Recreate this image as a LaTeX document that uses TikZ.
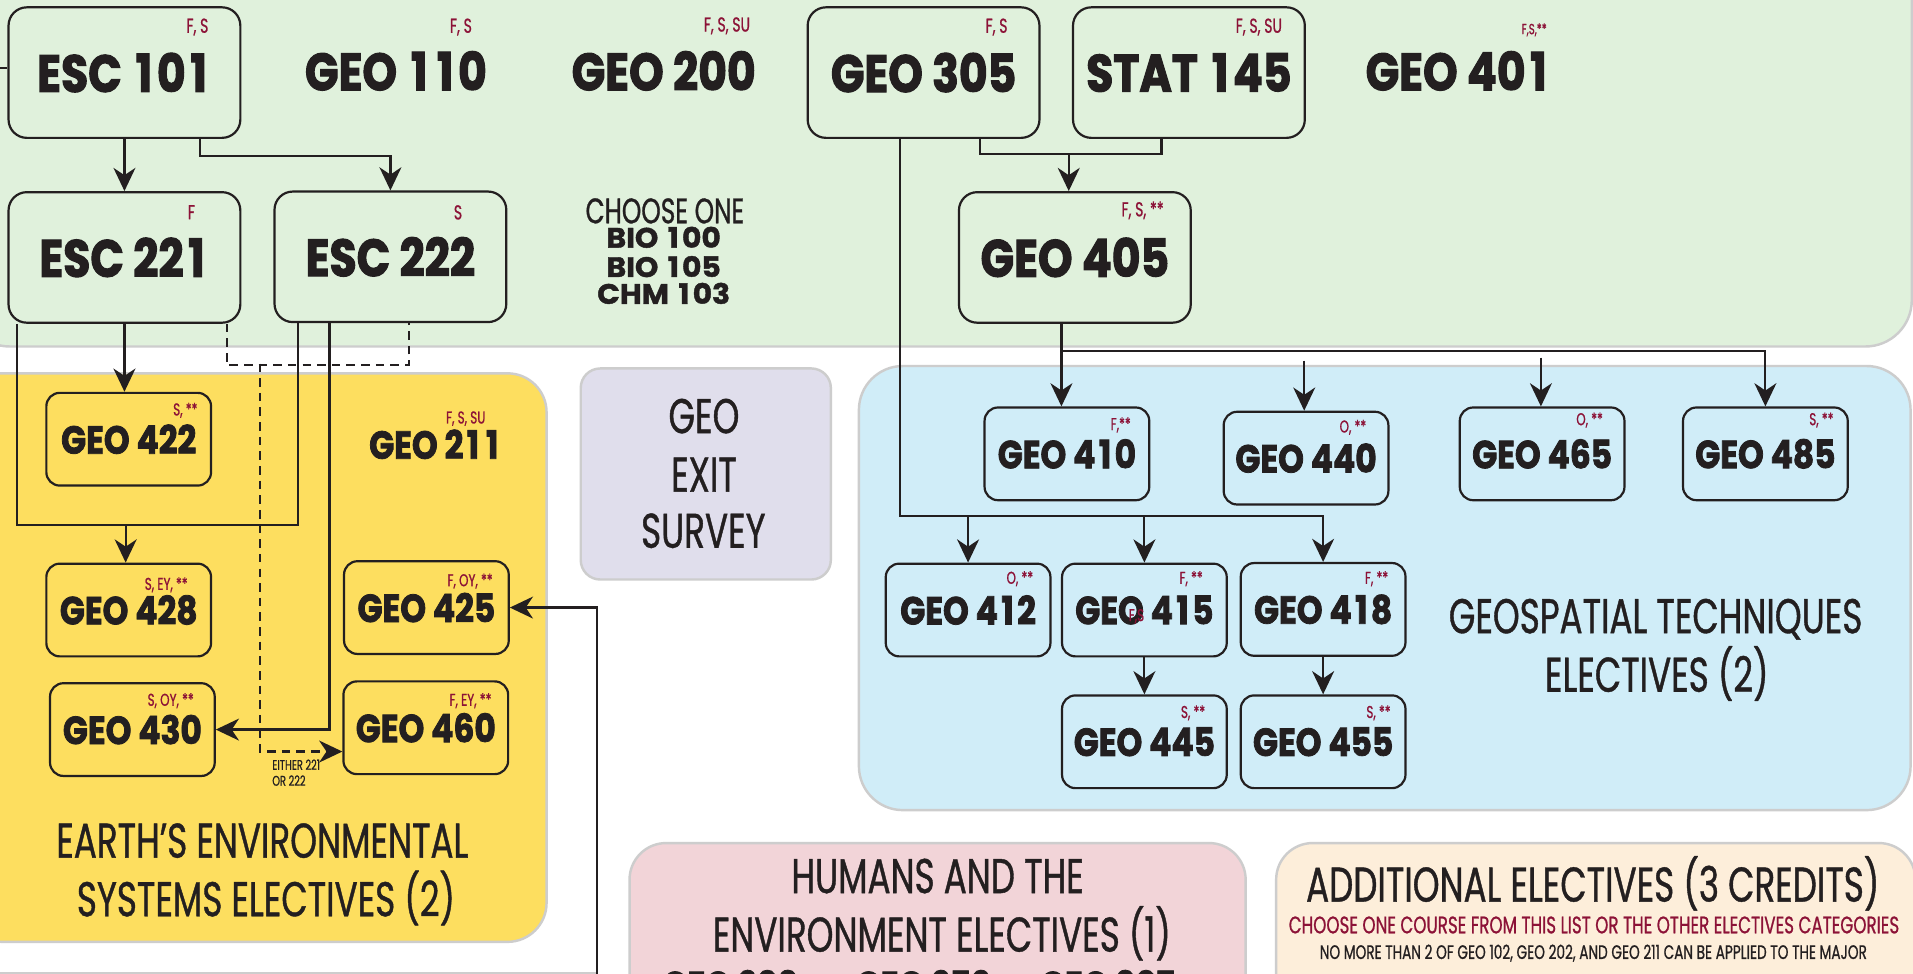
\documentclass[tikz,border=0pt]{standalone}
\usepackage{fontspec}
\usetikzlibrary{arrows.meta,calc}
\newfontfamily\heavyfam[FakeStretch=0.84, FakeBold=2]{Poppins}
\newfontfamily\widefam[FakeStretch=1.06, FakeBold=1.5]{Poppins}
\newfontfamily\lightfam[FakeStretch=0.70, FakeBold=0.8]{Poppins}
\newcommand\HF[1]{\heavyfam\bfseries\fontsize{#1}{#1}\selectfont}
\newcommand\WF[1]{\widefam\bfseries\fontsize{#1}{#1}\selectfont}
\newcommand\LF[1]{\lightfam\fontsize{#1}{#1}\selectfont}
\newlength\digw
\newcommand\one{\settowidth{\digw}{0}\makebox[0.9\digw]{1}}
\definecolor{ink}{RGB}{35,31,32}
\definecolor{ann}{RGB}{140,18,55}
\definecolor{greenbg}{RGB}{224,241,220}
\definecolor{yellowbg}{RGB}{253,222,95}
\definecolor{lavbg}{RGB}{224,222,236}
\definecolor{bluebg}{RGB}{208,237,248}
\definecolor{pinkbg}{RGB}{242,212,216}
\definecolor{peachbg}{RGB}{253,238,218}
\definecolor{rim}{RGB}{205,205,205}
\tikzset{
  region/.style={draw=rim, line width=2pt, rounded corners=#1},
  bigbox/.style={draw=ink, line width=1.8pt, rounded corners=15pt, minimum width=190pt, minimum height=107pt, inner sep=0pt, font=\HF{43}},
  smallbox/.style={draw=ink, line width=1.8pt, rounded corners=11pt, minimum width=135pt, minimum height=76pt, inner sep=0pt, font=\HF{32}},
  bigtxt/.style={anchor=base, inner sep=0pt, font=\HF{43}},
  medtxt/.style={anchor=base, inner sep=0pt, font=\HF{32}},
  listtxt/.style={anchor=base, inner sep=0pt, font=\WF{23}},
  bigann/.style={anchor=north east, inner sep=0pt, text=ann, font=\LF{16.5}},
  smallann/.style={anchor=north east, inner sep=0pt, text=ann, font=\LF{14}},
  title/.style={anchor=base, inner sep=0pt, font=\LF{40}},
  conn/.style={draw=ink, line width=1.8pt},
  arr/.style={conn, -{Stealth[length=19pt,width=18pt,inset=6pt]}},
  dconn/.style={conn, dash pattern=on 7pt off 5pt},
  darr/.style={dconn, -{Stealth[length=19pt,width=18pt,inset=6pt]}},
}
\begin{document}
\begin{tikzpicture}[x=1pt,y=-1pt,text=ink]
\useasboundingbox (0,0) rectangle (1568,798);
\fill[white] (0,0) rectangle (1568,798);
% regions
\path[region=38pt, fill=greenbg] (-30,-40) rectangle (1567,284);
\path[region=32pt, fill=yellowbg] (-30,306) rectangle (448,772);
\path[region=16pt, fill=lavbg] (476,302) rectangle (681,475);
\path[region=36pt, fill=bluebg] (704,300) rectangle (1566,664);
\path[region=30pt, fill=pinkbg] (516,691) rectangle (1021,860);
\path[region=30pt, fill=peachbg] (1046,691) rectangle (1570,860);
\draw[rim, line width=2pt] (-5,797.5) -- (489,797.5);

% top row
\node[bigbox] (esc101) at (102,59.5) {ESC \one0\one};
\node[bigann] (a101) at (171,15) {F, S};
\node[bigtxt] (geo110) at (324.5,74) {GEO \one\one0};
\node[bigann] (a110) at (387,15) {F, S};
\node[bigtxt] (geo200) at (544,74) {GEO 200};
\node[bigann] (a200) at (615,14) {F, S, SU};
\node[bigbox] (geo305) at (757,59.5) {GEO 305};
\node[bigann] (a305) at (826,15) {F, S};
\node[bigbox] (stat145) at (974.5,59.5) {STAT \one45};
\node[bigann] (a145) at (1051,15) {F, S, SU};
\node[bigtxt] (geo401) at (1195.5,74) {GEO 40\one};
\node[anchor=north east, inner sep=0pt, text=ann, font=\LF{12}] (a401) at (1268,19) {F,S,**};

% second row
\node[bigbox] (esc221) at (102,211) {ESC 22\one};
\node[bigann] (a221) at (160,168) {F};
\node[bigbox] (esc222) at (320,210.5) {ESC 222};
\node[bigann] (a222) at (379,168) {S};
\node[bigbox] (geo405) at (881,211) {GEO 405};
\node[bigann] (a405) at (954,165) {F, S, **};
\node[anchor=base, inner sep=0pt, font=\LF{29}] (choose) at (545,183) {CHOOSE ONE};
\node[listtxt] (bio100) at (544,203) {BIO \one00};
\node[listtxt] (bio105) at (544,227) {BIO \one05};
\node[listtxt] (chm103) at (544,249) {CHM \one03};

% yellow region
\node[smallbox] (geo422) at (105.5,360) {GEO 422};
\node[smallann] (a422) at (162,330) {S, **};
\node[medtxt] (geo211) at (357,376) {GEO 2\one\one};
\node[smallann] (a211) at (398,337) {F, S, SU};
\node[smallbox] (geo428) at (105.5,500) {GEO 428};
\node[smallann] (a428) at (154,473) {S, EY, **};
\node[smallbox] (geo425) at (349.5,498) {GEO 425};
\node[smallann] (a425) at (404,470) {F, OY, **};
\node[smallbox] (geo430) at (108.5,598) {GEO 430};
\node[smallann] (a430) at (159,568) {S, OY, **};
\node[smallbox] (geo460) at (349,596.5) {GEO 460};
\node[smallann] (a460) at (403,568) {F, EY, **};
\node[anchor=base west, inner sep=0pt, font=\LF{11.5}] (either1) at (223,631) {EITHER 221};
\node[anchor=base west, inner sep=0pt, font=\LF{11.5}] (either2) at (223,644) {OR 222};
\node[title] (t1a) at (215,703) {EARTH’S ENVIRONMENTAL};
\node[title] (t1b) at (218,751) {SYSTEMS ELECTIVES (2)};

% exit survey
\node[title] (x1) at (577,355) {GEO};
\node[title] (x2) at (577,403) {EXIT};
\node[title] (x3) at (576.5,449) {SURVEY};

% blue region
\node[smallbox] (geo410) at (874.5,372) {GEO 4\one0};
\node[smallann] (a410) at (927,342) {F,**};
\node[smallbox] (geo440) at (1070.5,375.5) {GEO 440};
\node[smallann] (a440) at (1120,344) {O, **};
\node[smallbox] (geo465) at (1264,372) {GEO 465};
\node[smallann] (a465) at (1314,338) {O, **};
\node[smallbox] (geo485) at (1447,372) {GEO 485};
\node[smallann] (a485) at (1503,338) {S, **};
\node[smallbox] (geo412) at (793.5,500) {GEO 4\one2};
\node[smallann] (a412) at (847,468) {O, **};
\node[smallbox] (geo415) at (938,500) {GEO 4\one5};
\node[smallann] (a415) at (986,468) {F, **};
\node[smallann] (a415b) at (938,499) {F,S};
\node[smallbox] (geo418) at (1084.5,499.5) {GEO 4\one8};
\node[smallann] (a418) at (1138,468) {F, **};
\node[smallbox] (geo445) at (938,608) {GEO 445};
\node[smallann] (a445) at (988,578) {S, **};
\node[smallbox] (geo455) at (1084.5,608) {GEO 455};
\node[smallann] (a455) at (1140,578) {S, **};
\node[title] (t2a) at (1357,519) {GEOSPATIAL TECHNIQUES};
\node[title] (t2b) at (1358,567) {ELECTIVES (2)};

% pink region
\node[title] (t3a) at (768.5,732) {HUMANS AND THE};
\node[title] (t3b) at (772,780) {ENVIRONMENT ELECTIVES (1)};
\node[medtxt] (geo203) at (598.5,819) {GEO 203};
\node[medtxt] (geo252) at (756.5,819) {GEO 252};
\node[medtxt] (geo307) at (907.5,819) {GEO 307};

% peach region
\node[title] (t4a) at (1305.5,739) {ADDITIONAL ELECTIVES (3 CREDITS)};
\node[anchor=base, inner sep=0pt, text=ann, font=\LF{19.6}] (t4b) at (1306.5,765) {CHOOSE ONE COURSE FROM THIS LIST OR THE OTHER ELECTIVES CATEGORIES};
\node[anchor=base, inner sep=0pt, font=\LF{16}] (t4c) at (1306,786) {NO MORE THAN 2 OF GEO 102, GEO 202, AND GEO 211 CAN BE APPLIED TO THE MAJOR};

% connectors
\coordinate (lft) at (-5,56);
\draw[conn] (lft) -- (esc101.west |- lft);
\draw[arr] (esc101.south) -- (esc221.north);
\draw[arr] ($(esc101.south)+(62,0)$) |- ($(esc222.north)+(0,-28)$) -- (esc222.north);
\coordinate (m405) at (876,126);
\draw[conn] ($(geo305.south)+(46,0)$) |- (m405) -| ($(stat145.south)+(-22.5,0)$);
\draw[arr] (m405) -- (m405 |- geo405.north);
% GEO 305 to 412/415/418
\coordinate (hrow) at (0,423);
\draw[arr] ($(geo305.south)+(-19,0)$) |- (geo418.north |- hrow) -- (geo418.north);
\draw[arr] (geo412.north |- hrow) -- (geo412.north);
\draw[arr] (geo415.north |- hrow) -- (geo415.north);
% GEO 405 to 410/440/465/485
\coordinate (b405) at ($(geo405.south)+(-11,0)$);
\coordinate (h2) at (0,288);
\draw[arr] (b405) -- (b405 |- geo410.north);
\draw[arr] (b405 |- h2) -| (geo485.north);
\draw[arr] ($(geo440.north)+(-1.5,-41)$) -- ($(geo440.north)+(-1.5,0)$);
\draw[arr] ($(geo465.north)+(-1,-40)$) -- ($(geo465.north)+(-1,0)$);
\draw[arr] (geo415.south) -- (geo445.north);
\draw[arr] (geo418.south) -- (geo455.north);
% ESC 221/222 to electives
\draw[arr] (esc221.south) -- (esc221.south |- geo422.north);
\coordinate (j428) at (103,430);
\draw[conn] ($(esc221.south)+(-88,0)$) |- (j428) -| ($(esc222.south)+(-76,0)$);
\draw[arr] (j428) -- (j428 |- geo428.north);
\draw[arr] ($(esc222.south)+(-50,0)$) |- (geo430.east);
\draw[dconn] ($(esc221.south)+(84,0)$) -- ++(0,34) -| ($(esc222.south)+(15,0)$);
\coordinate (d1) at (213,298);
\draw[darr] (d1) |- ($(geo460.west)+(0,19.5)$);
\coordinate (bot) at (489,805);
\draw[arr] (bot) |- (geo425.east);
\end{tikzpicture}
\end{document}
